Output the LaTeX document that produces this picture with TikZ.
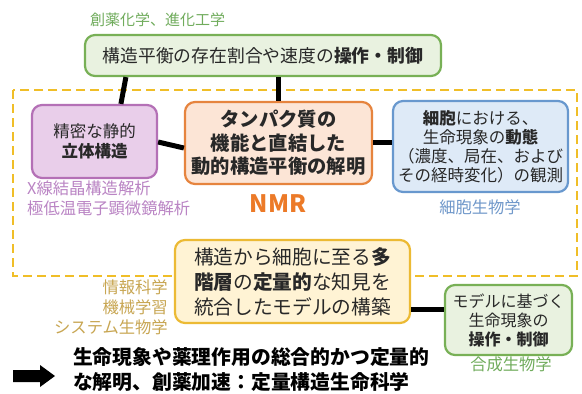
\documentclass[tikz,border=0pt]{standalone}
\usepackage{fontspec}
\setmainfont{Noto Sans CJK JP}
\usetikzlibrary{calc}
\definecolor{txt}{RGB}{40,40,40}
\definecolor{grB}{RGB}{120,176,86}
\definecolor{grF}{RGB}{233,242,224}
\definecolor{grL}{RGB}{112,172,92}
\definecolor{puB}{RGB}{180,112,182}
\definecolor{puF}{RGB}{233,206,234}
\definecolor{puL}{RGB}{186,132,196}
\definecolor{orB}{RGB}{230,132,62}
\definecolor{orF}{RGB}{252,229,214}
\definecolor{orT}{RGB}{236,122,40}
\definecolor{blB}{RGB}{104,152,206}
\definecolor{blF}{RGB}{222,234,247}
\definecolor{blL}{RGB}{112,152,202}
\definecolor{yeB}{RGB}{236,186,52}
\definecolor{yeF}{RGB}{255,243,212}
\definecolor{yeD}{RGB}{240,190,40}
\definecolor{yeL}{RGB}{200,166,82}
\tikzset{
  boxs/.style={draw, line width=2.2pt, rounded corners=10pt, text=txt, inner sep=0pt, align=center},
  conn/.style={line width=5pt, black},
  lab/.style={inner sep=0pt, font=\fontsize{16.3}{20}\selectfont},
}
\begin{document}
\begin{tikzpicture}[x=1pt,y=-1pt]
\useasboundingbox[fill=white] (0,0) rectangle (582,394);
% dashed region
\draw[yeD, line width=2.3pt, dash pattern=on 9pt off 5pt] (13,90) rectangle (577,276);
% label top
\node[lab, text=grL, font=\fontsize{15}{18}\selectfont, anchor=west] (ltop) at (90,20) {創薬化学、進化工学};
% boxes
\node[boxs, draw=grB, fill=grF, minimum width=356pt, minimum height=41pt, font=\fontsize{17.8}{21}\selectfont] (top) at (263,55.5) {構造平衡の存在割合や速度の\textbf{操作・制御}};
\node[boxs, draw=puB, fill=puF, minimum width=125pt, minimum height=73pt, font=\fontsize{16.5}{20}\selectfont] (pu) at (94.5,141.5) {精密な静的\\\textbf{立体構造}};
\node[boxs, draw=orB, fill=orF, minimum width=187pt, minimum height=82pt, font=\fontsize{19.3}{23.5}\selectfont\bfseries] (or) at (278.5,143) {タンパク質の\\機能と直結した\\動的構造平衡の解明};
\node[boxs, draw=blB, fill=blF, minimum width=175pt, minimum height=91pt, font=\fontsize{16.5}{19}\selectfont] (bl) at (480.5,146.5) {\textbf{細胞}における、\\生命現象の\textbf{動態}\\（濃度、局在、および\\その経時変化）の観測};
\node[boxs, draw=yeB, fill=yeF, minimum width=235pt, minimum height=83pt, align=left, font=\fontsize{19.7}{25}\selectfont] (ye) at (292.5,281.5) {構造から細胞に至る\textbf{多}\\\textbf{階層}の\textbf{定量的}な知見を\\統合したモデルの構築};
\node[boxs, draw=grB, fill=grF, minimum width=127pt, minimum height=70pt, font=\fontsize{16}{19}\selectfont] (gr) at (508.5,320) {モデルに基づく\\生命現象の\\\textbf{操作・制御}};
% labels
\node[lab, text=puL, align=left, anchor=north west] (lpu) at (27,180.5) {X線結晶構造解析\\極低温電子顕微鏡解析};
\node[inner sep=0pt, text=orT, font=\fontsize{24}{28}\selectfont\bfseries] (nmr) at (278,204) {NMR};
\node[lab, text=blL] (lbl) at (480,207) {細胞生物学};
\node[lab, text=yeL, align=right, anchor=north east] (lye) at (168,280) {情報科学\\機械学習\\システム生物学};
\node[lab, text=grL] (lgr) at (511,364) {合成生物学};
% connectors
\draw[conn] ([xshift=42pt]top.south west) -- ([xshift=90pt]pu.north west);
\draw[conn] (top.south -| or.north) -- (or.north);
\draw[conn] ([yshift=-0.5pt]pu.east) -- ([yshift=-5pt]or.west);
\draw[conn] ([yshift=1pt]or.east) -- ([yshift=1pt]or.east -| bl.west);
\draw[conn] ([yshift=-27.5pt]ye.east) -- ([yshift=-27.5pt]ye.east -| gr.west);
% bottom arrow
\fill[black] (13,370) -- (40,370) -- (40,365) -- (55,376) -- (40,387) -- (40,382) -- (13,382) -- cycle;
\node[inner sep=0pt, anchor=west, align=left, text=black, font=\fontsize{19.8}{25}\selectfont\bfseries] (concl) at (73,370) {生命現象や薬理作用の総合的かつ定量的\\な解明、創薬加速：定量構造生命科学};
\end{tikzpicture}
\end{document}
